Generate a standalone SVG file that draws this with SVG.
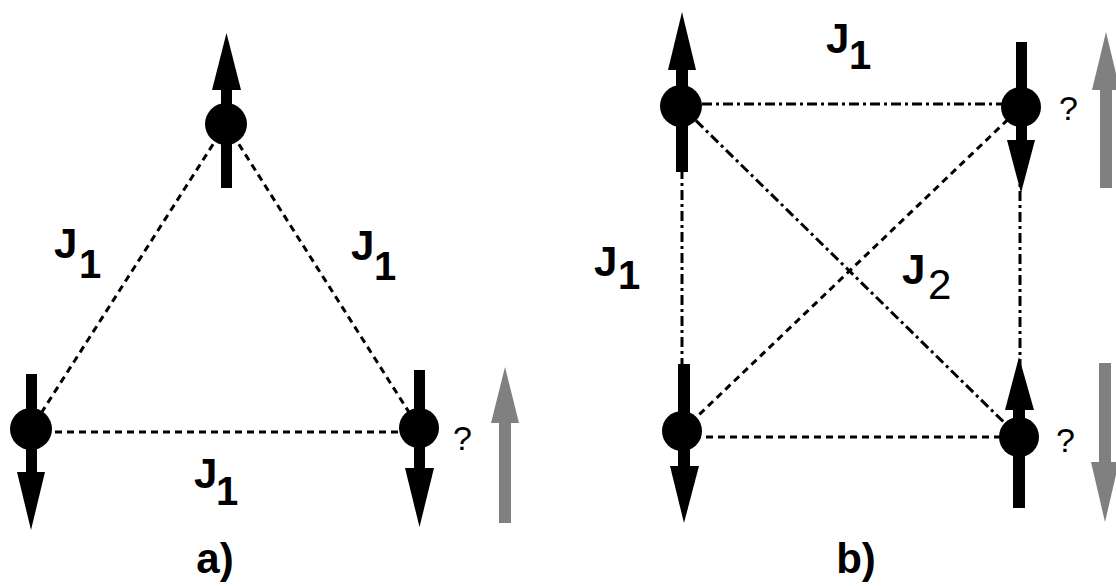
<svg xmlns="http://www.w3.org/2000/svg" width="1116" height="586" viewBox="0 0 1116 586">
<style>
.bg{fill:#fff}
.ln{stroke:#000;stroke-width:3;fill:none}
.d{stroke-dasharray:7 5}
.dd{stroke-dasharray:10 4 3 4}
.sp{fill:#000}
.gr{fill:#808080}
.lbl{font-family:"Liberation Sans",Arial,sans-serif;font-weight:bold;font-size:42px;fill:#000}
.sub{font-family:"Liberation Sans",Arial,sans-serif;font-weight:bold;font-size:40px;fill:#000}
.sub2{font-family:"Liberation Sans",Arial,sans-serif;font-size:42px;fill:#000}
.q{font-family:"Liberation Sans",Arial,sans-serif;font-size:34px;fill:#000}
</style>
<rect class="bg" x="0" y="0" width="1116" height="586"/>
<g id="connectors">
  <line class="ln d" x1="226" y1="124" x2="31" y2="429"/>
  <line class="ln d" x1="226" y1="124" x2="419" y2="428"/>
  <line class="ln d" x1="31" y1="432" x2="419" y2="432"/>
  <line class="ln dd" x1="681" y1="104" x2="1021" y2="104"/>
  <line class="ln dd" x1="682" y1="106" x2="682" y2="431"/>
  <line class="ln dd" x1="1020" y1="107" x2="1020" y2="437"/>
  <line class="ln d" x1="682" y1="437" x2="1019" y2="437"/>
  <line class="ln dd" x1="681" y1="106" x2="1019" y2="437"/>
  <line class="ln d" x1="682" y1="431" x2="1021" y2="107"/>
</g>
<g id="a-top">
  <rect class="sp" x="221" y="88" width="11" height="100"/>
  <polygon class="sp" points="226.5,33 241,90 212,90"/>
  <circle class="sp" cx="226" cy="124" r="21"/>
</g>
<g id="a-left">
  <rect class="sp" x="26" y="374" width="11" height="100"/>
  <polygon class="sp" points="17,472 45,472 31,530"/>
  <circle class="sp" cx="31" cy="429" r="21"/>
</g>
<g id="a-right">
  <rect class="sp" x="414" y="370" width="11" height="100"/>
  <polygon class="sp" points="405,468 434,468 419.5,527"/>
  <circle class="sp" cx="419" cy="428" r="20"/>
</g>
<g id="a-gray">
  <rect class="gr" x="499" y="420" width="12" height="103"/>
  <polygon class="gr" points="505,367 519,423 491,423"/>
</g>
<g id="b-tl">
  <rect class="sp" x="676" y="68" width="12" height="104"/>
  <polygon class="sp" points="682,12 696,70 668,70"/>
  <circle class="sp" cx="681" cy="106" r="21"/>
</g>
<g id="b-tr">
  <rect class="sp" x="1016" y="42" width="11" height="100"/>
  <polygon class="sp" points="1007,140 1035,140 1021,193"/>
  <circle class="sp" cx="1021" cy="107" r="20"/>
</g>
<g id="b-bl">
  <rect class="sp" x="678" y="364" width="12" height="104"/>
  <polygon class="sp" points="670,466 699,466 684,523"/>
  <circle class="sp" cx="682" cy="431" r="20"/>
</g>
<g id="b-br">
  <rect class="sp" x="1013" y="408" width="12" height="100"/>
  <polygon class="sp" points="1019,357 1034,410 1005,410"/>
  <circle class="sp" cx="1019" cy="437" r="20"/>
</g>
<g id="b-gray-top">
  <rect class="gr" x="1100" y="88" width="12" height="100"/>
  <polygon class="gr" points="1106,32 1120,90 1092,90"/>
</g>
<g id="b-gray-bottom">
  <rect class="gr" x="1099" y="363" width="12" height="101"/>
  <polygon class="gr" points="1091,462 1119,462 1105,522"/>
</g>
<g id="labels">
  <text class="lbl" x="54" y="258">J</text><text class="sub" x="79" y="278">1</text>
  <text class="lbl" x="351" y="260">J</text><text class="sub" x="374" y="280">1</text>
  <text class="lbl" x="194" y="488">J</text><text class="sub" x="216" y="505">1</text>
  <text class="lbl" x="826" y="53">J</text><text class="sub" x="849" y="69">1</text>
  <text class="lbl" x="594" y="276">J</text><text class="sub" x="618" y="289">1</text>
  <text class="lbl" x="902" y="284">J</text><text class="sub2" x="928" y="299">2</text>
  <text class="q" x="453" y="450">?</text>
  <text class="q" x="1059" y="120">?</text>
  <text class="q" x="1056" y="452">?</text>
  <text class="lbl" x="215" y="573" text-anchor="middle">a)</text>
  <text class="lbl" x="856" y="573" text-anchor="middle">b)</text>
</g>
</svg>
